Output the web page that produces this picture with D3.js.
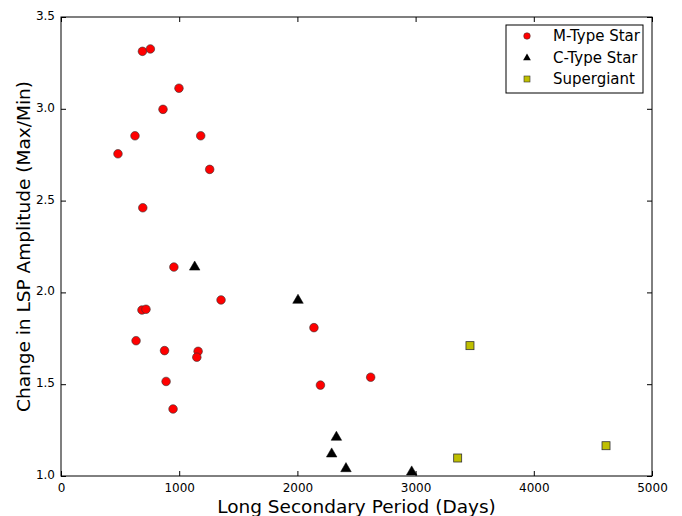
<!DOCTYPE html>
<html><head><meta charset="utf-8">
<script src="https://d3js.org/d3.v7.min.js"></script>
<style>body{margin:0;background:#fff;} svg{display:block;font-family:"DejaVu Sans",sans-serif;}</style>
</head><body>
<script>
const mPeriod = [482, 626, 689, 756, 863, 998, 1182, 1258, 692, 955, 1354, 685, 719, 635, 876, 1160, 1149, 889, 948, 2140, 2195, 2620];
const mAmp    = [2.755, 2.853, 3.313, 3.326, 2.997, 3.112, 2.853, 2.670, 2.461, 2.138, 1.959, 1.904, 1.908, 1.737, 1.683, 1.679, 1.647, 1.515, 1.365, 1.808, 1.495, 1.538];
const cPeriod = [1131, 2005, 2330, 2290, 2411, 2967];
const cAmp    = [2.138, 1.957, 1.211, 1.120, 1.040, 1.022];
const sPeriod = [3460, 3356, 4611];
const sAmp    = [1.710, 1.098, 1.165];
const xTicks = [0, 1000, 2000, 3000, 4000, 5000];
const yTicks = [1.0, 1.5, 2.0, 2.5, 3.0, 3.5];
const legendLabels = ["M-Type Star", "C-Type Star", "Supergiant"];

const W = 682, H = 516;
const m = {left: 61, right: 30, top: 17, bottom: 40};
const svg = d3.select("body").append("svg").attr("width", W).attr("height", H);
const x = d3.scaleLinear().domain([0, 5000]).range([m.left, W - m.right]);
const y = d3.scaleLinear().domain([1.0, 3.5]).range([H - m.bottom, m.top]);

const tl = 5;
const gx = svg.append("g").attr("transform", `translate(0,${y(1.0)})`)
  .call(d3.axisBottom(x).tickValues(xTicks).tickFormat(d3.format("d")).tickSizeInner(-tl).tickSizeOuter(0).tickPadding(7));
const gxt = svg.append("g").attr("transform", `translate(0,${y(3.5)})`)
  .call(d3.axisTop(x).tickValues(xTicks).tickFormat("").tickSizeInner(-tl).tickSizeOuter(0));
const gy = svg.append("g").attr("transform", `translate(${x(0)},0)`)
  .call(d3.axisLeft(y).tickValues(yTicks).tickFormat(d3.format(".1f")).tickSizeInner(-tl).tickSizeOuter(0).tickPadding(6));
const gyr = svg.append("g").attr("transform", `translate(${x(5000)},0)`)
  .call(d3.axisRight(y).tickValues(yTicks).tickFormat("").tickSizeInner(-tl).tickSizeOuter(0));
[gx, gxt, gy, gyr].forEach(g => {
  g.select(".domain").remove();
  g.selectAll("line").attr("stroke", "#000");
  g.selectAll("text").attr("font-size", 12).attr("fill", "#000").attr("font-family", "DejaVu Sans");
});
gy.selectAll("text").attr("dy", "0.2em");

svg.append("rect").attr("x", x(0)).attr("y", y(3.5)).attr("width", x(5000) - x(0)).attr("height", y(1.0) - y(3.5))
  .attr("fill", "none").attr("stroke", "#000").attr("stroke-width", 1);

const mData = mPeriod.map((p, i) => ({p, a: mAmp[i]}));
const cData = cPeriod.map((p, i) => ({p, a: cAmp[i]}));
const sData = sPeriod.map((p, i) => ({p, a: sAmp[i]}));

svg.append("g").selectAll("circle").data(mData).join("circle")
  .attr("cx", d => x(d.p)).attr("cy", d => y(d.a)).attr("r", 4.3)
  .attr("fill", "#ff0000").attr("stroke", "#333").attr("stroke-width", 0.6);

const tri = d3.symbol().type(d3.symbolTriangle).size(48);
svg.append("g").selectAll("path").data(cData).join("path")
  .attr("transform", d => `translate(${x(d.p)},${y(d.a)})`).attr("d", tri)
  .attr("fill", "#000").attr("stroke", "#000").attr("stroke-width", 0.5);

const sq = 8;
svg.append("g").selectAll("rect").data(sData).join("rect")
  .attr("x", d => x(d.p) - sq / 2).attr("y", d => y(d.a) - sq / 2).attr("width", sq).attr("height", sq)
  .attr("fill", "#bfbf00").attr("stroke", "#333").attr("stroke-width", 0.8);

svg.append("text").attr("x", (x(0) + x(5000)) / 2).attr("y", 513).attr("text-anchor", "middle")
  .attr("font-size", 18.5).attr("fill", "#000").text("Long Secondary Period (Days)");
svg.append("text").attr("transform", `translate(30,${(y(1) + y(3.5)) / 2}) rotate(-90)`).attr("text-anchor", "middle")
  .attr("font-size", 18.5).attr("fill", "#000").text("Change in LSP Amplitude (Max/Min)");

const lg = svg.append("g");
lg.append("rect").attr("x", 506).attr("y", 25).attr("width", 137).attr("height", 68)
  .attr("fill", "#fff").attr("stroke", "#000").attr("stroke-width", 1);
const ly = [36, 58, 79];
lg.append("circle").attr("cx", 527).attr("cy", ly[0]).attr("r", 3.3).attr("fill", "#ff0000").attr("stroke", "#333").attr("stroke-width", 0.5);
lg.append("path").attr("transform", `translate(527,${ly[1]})`).attr("d", d3.symbol().type(d3.symbolTriangle).size(26)).attr("fill", "#000");
lg.append("rect").attr("x", 524).attr("y", ly[2] - 3).attr("width", 6).attr("height", 6).attr("fill", "#bfbf00").attr("stroke", "#333").attr("stroke-width", 0.6);
legendLabels.forEach((t, i) => {
  lg.append("text").attr("x", 553).attr("y", ly[i]).attr("dy", "0.35em").attr("font-size", 15).attr("fill", "#000").text(t);
});
</script>
</body></html>
